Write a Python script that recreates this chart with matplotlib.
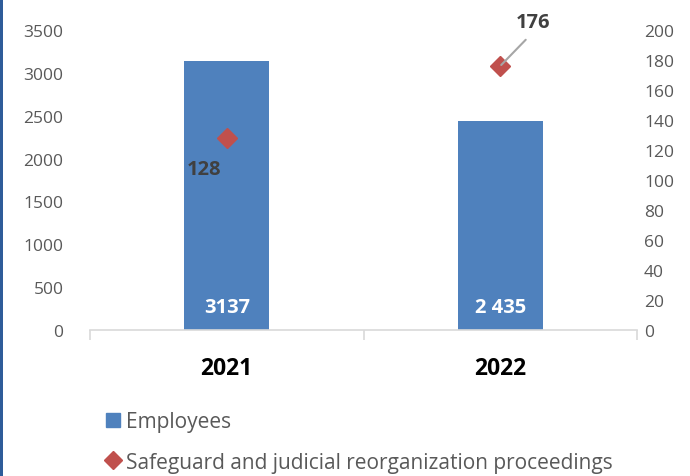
import matplotlib
matplotlib.use("Agg")
import matplotlib.pyplot as plt
from matplotlib.lines import Line2D
from matplotlib.patches import Rectangle

years = ["2021", "2022"]
employees = [3137, 2435]
employee_labels = ["3137", "2 435"]
proceedings = [128, 176]
proceeding_labels = ["128", "176"]

plt.rcParams['font.family'] = ['Open Sans', 'DejaVu Sans']

fig = plt.figure(figsize=(6.9, 4.77), dpi=100)
ax = fig.add_axes([90/690, 1-331/477, (637-90)/690, 300/477])
ax2 = ax.twinx()

x = list(range(len(years)))
bars = ax.bar(x, employees, width=0.31, color="#4F81BD", zorder=2)
ax.set_xlim(-0.5, 1.5)
ax.set_ylim(0, 3500)
ax.set_yticks(range(0, 3501, 500))
ax2.set_ylim(0, 200)
ax2.set_yticks(range(0, 201, 20))

for a in (ax, ax2):
    for s in a.spines.values():
        s.set_visible(False)
    a.tick_params(axis='y', length=0, labelsize=12.5, labelcolor="#595959")
ax.tick_params(axis='y', pad=19)
ax2.tick_params(axis='y', pad=5)
ax.spines['bottom'].set_visible(True)
ax.spines['bottom'].set_color("#D9D9D9")
ax.spines['bottom'].set_linewidth(1.2)

ax.set_xticks(x)
ax.set_xticklabels(years, fontsize=16.5, fontweight='bold', color="black")
ax.tick_params(axis='x', which='major', length=0, pad=19)
ax.set_xticks([-0.5, 0.5, 1.5], minor=True)
ax.tick_params(axis='x', which='minor', length=7, color="#D9D9D9", width=1.2)

for b, lab in zip(bars, employee_labels):
    ax.text(b.get_x() + b.get_width()/2, 270, lab, ha='center', va='center',
            color='white', fontsize=14.5, fontweight='bold')

ax2.plot(x, proceedings, linestyle='none', marker='D', markersize=10,
         color="#C0504D", zorder=3)

ax2.annotate(proceeding_labels[0], (x[0], proceedings[0]), xytext=(-23, -31),
             textcoords='offset pixels', ha='center', va='center',
             fontsize=14.5, fontweight='bold', color="#404040")
ax2.annotate(proceeding_labels[1], (x[1], proceedings[1]), xytext=(33, 44),
             textcoords='offset pixels', ha='center', va='center',
             fontsize=14.5, fontweight='bold', color="#404040",
             arrowprops=dict(arrowstyle='-', color="#A6A6A6", lw=1.5,
                             relpos=(0.5, 0), shrinkA=5, shrinkB=1))

handles = [Line2D([], [], linestyle='none', marker='s', markersize=10, color="#4F81BD"),
           Line2D([], [], linestyle='none', marker='D', markersize=9, color="#C0504D")]
fig.legend(handles, ["Employees", "Safeguard and judicial reorganization proceedings"],
           loc='upper left', bbox_to_anchor=(107/690, 1-412/477), frameon=False,
           fontsize=15, labelcolor="#595959", handlelength=0.6, handletextpad=0.3,
           labelspacing=0.95, borderaxespad=0, borderpad=0)

fig.add_artist(Rectangle((0, 0), 2.5/690, 1, transform=fig.transFigure,
                         color="#2E5C99", lw=0))

fig.savefig("out.png", dpi=100)
